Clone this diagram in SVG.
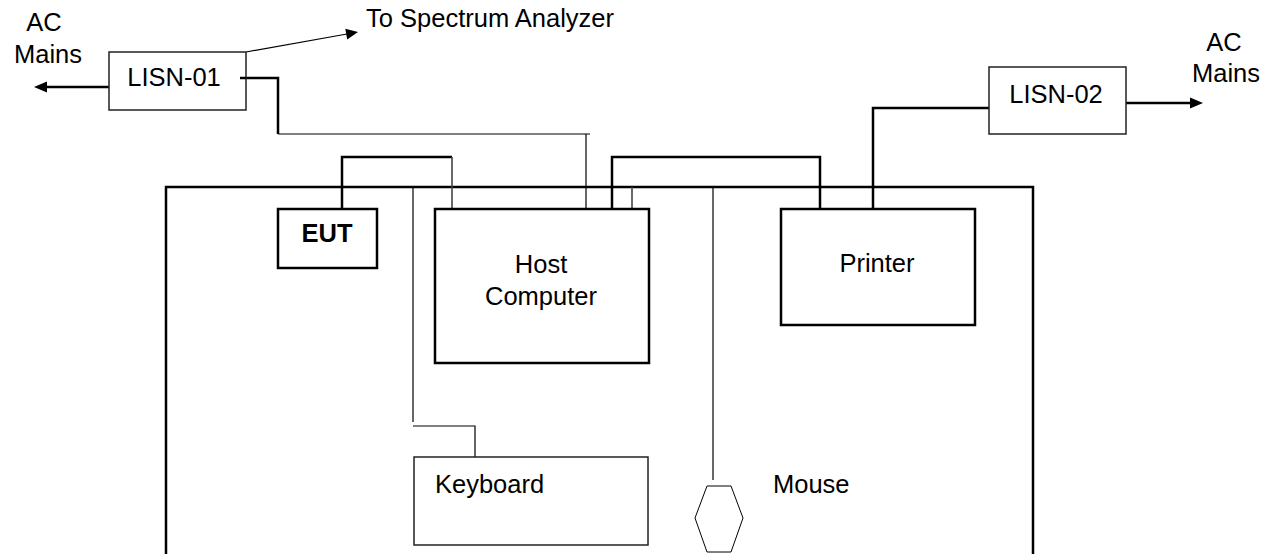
<svg xmlns="http://www.w3.org/2000/svg" width="1272" height="554" viewBox="0 0 1272 554">
  <style>
    text { font-family: "Liberation Sans", Arial, sans-serif; font-size: 25.5px; fill: #000; }
    .mid { text-anchor: middle; }
    .bold { font-weight: bold; }
    .box { fill: #fff; stroke: #000; stroke-width: 2.5; }
    .box-thin { fill: #fff; stroke: #222; stroke-width: 1.5; }
    .thick { fill: none; stroke: #000; stroke-width: 2.5; }
    .thin { fill: none; stroke: #000; stroke-width: 1.2; }
    .grey { fill: none; stroke: #444; stroke-width: 1.6; }
    .head { fill: #000; stroke: none; }
  </style>

  <!-- test table outline (open at the bottom) -->
  <g id="table">
    <polyline class="thick" points="166,554 166,187 1033,187 1033,554"/>
  </g>

  <!-- cables -->
  <g id="connectors">
    <!-- LISN-01 to spectrum analyzer -->
    <line class="thin" x1="246" y1="52" x2="347" y2="34"/>
    <polygon class="head" points="358,32 345.3,28.8 347.2,39.6"/>
    <!-- LISN-01 to AC mains -->
    <line class="thick" x1="109" y1="87" x2="44" y2="87"/>
    <polygon class="head" points="34,87 47,81.5 47,92.5"/>
    <!-- LISN-01 to host computer -->
    <polyline class="thick" points="240,78 278,78 278,134"/>
    <polyline class="thin" points="278,134 590,134"/>
    <line class="thin" x1="586" y1="134" x2="586" y2="209"/>
    <!-- EUT to host computer -->
    <polyline class="thick" points="342,209 342,157 452,157"/>
    <line class="grey" x1="452" y1="157" x2="452" y2="209"/>
    <!-- host computer to printer -->
    <polyline class="thick" points="612,209 612,157 820,157 820,209"/>
    <line class="grey" x1="632" y1="187" x2="632" y2="209"/>
    <!-- printer to LISN-02 -->
    <polyline class="thick" points="873,209 873,108 989,108"/>
    <!-- LISN-02 to AC mains -->
    <line class="thick" x1="1126" y1="103" x2="1192" y2="103"/>
    <polygon class="head" points="1203,103 1190,97.5 1190,108.5"/>
    <!-- keyboard cable -->
    <line class="thin" x1="413" y1="187" x2="413" y2="422"/>
    <polyline class="thin" points="413,426 475,426 475,457"/>
    <!-- mouse cable -->
    <line class="thin" x1="713" y1="187" x2="713" y2="480"/>
  </g>

  <g id="ac-mains-left">
    <text class="mid" x="44" y="31" font-size="24">AC</text>
    <text class="mid" x="48" y="63" font-size="24">Mains</text>
  </g>

  <g id="ac-mains-right">
    <text class="mid" x="1224" y="51" font-size="24">AC</text>
    <text class="mid" x="1226" y="82" font-size="24">Mains</text>
  </g>

  <g id="spectrum-analyzer">
    <text x="366" y="27" font-size="26">To Spectrum Analyzer</text>
  </g>

  <g id="lisn-01">
    <rect class="box-thin" x="109" y="52" width="137" height="58"/>
    <text class="mid" x="174" y="86">LISN-01</text>
    <line class="thick" x1="240" y1="78" x2="246" y2="78"/>
  </g>

  <g id="lisn-02">
    <rect class="box-thin" x="989" y="67" width="137" height="67"/>
    <text class="mid" x="1056" y="103">LISN-02</text>
  </g>

  <g id="eut">
    <rect class="box" x="278" y="209" width="99" height="59"/>
    <text class="mid bold" x="327" y="242">EUT</text>
  </g>

  <g id="host-computer">
    <rect class="box" x="435" y="209" width="214" height="154"/>
    <text class="mid" x="541" y="273">Host</text>
    <text class="mid" x="541" y="305">Computer</text>
  </g>

  <g id="printer">
    <rect class="box" x="781" y="209" width="194" height="116"/>
    <text class="mid" x="877" y="272">Printer</text>
  </g>

  <g id="keyboard">
    <rect class="box-thin" x="414" y="457" width="234" height="88"/>
    <text x="435" y="493">Keyboard</text>
  </g>

  <g id="mouse">
    <polygon fill="#fff" stroke="#000" stroke-width="1" points="707,486 731,486 743,518 731,552 707,552 695,518"/>
    <text x="773" y="493">Mouse</text>
  </g>
</svg>
